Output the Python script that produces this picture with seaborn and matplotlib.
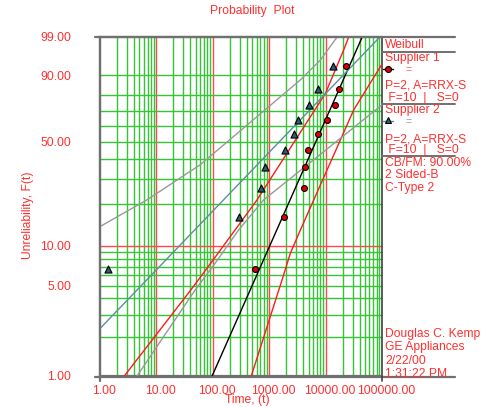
import numpy as np
import matplotlib
matplotlib.use("Agg")
import matplotlib.pyplot as plt
import matplotlib.transforms as mtransforms
from matplotlib.lines import Line2D
from matplotlib.ticker import NullLocator
import seaborn as sns

# ----------------------------
# Data
# ----------------------------
# failure times (Weibull probability plot)
s1_time = [553, 1807, 4090, 4365, 4875, 7244, 10590, 14680, 17070, 23000]
s2_time = [1.40, 288, 716, 853, 1905, 2718, 3243, 5077, 7244, 13520]
# unreliability of each point, %
s1_unrel = [6.7, 16.3, 26.0, 35.6, 45.2, 54.8, 64.4, 74.0, 83.7, 93.3]
s2_unrel = [6.7, 16.3, 26.0, 35.6, 45.2, 54.8, 64.4, 74.0, 83.7, 93.3]

# 90% two-sided confidence bounds (time, F %)
s1_bound_a_t = [2.7, 40.8, 110, 607, 10000, 20950, 25700]
s1_bound_a_f = [1.0, 4.65, 8.24, 21.5, 81.2, 97.4, 99.0]
s1_bound_b_t = [481, 1687, 2371, 3566, 31550, 94000, 100000]
s1_bound_b_f = [1.0, 5.54, 8.83, 13.1, 70.9, 93.3, 94.0]
s2_bound_a_t = [1.0, 6.75, 59.7, 3566, 8090, 16000]
s2_bound_a_f = [13.9, 21.5, 36.7, 88.0, 95.2, 99.0]
s2_bound_b_t = [4.54, 48.7, 110, 286, 795, 100000]
s2_bound_b_f = [1.0, 4.65, 7.42, 13.1, 21.5, 74.1]

x_ticks = [1, 10, 100, 1000, 10000, 100000]
x_labels = ["1.00", "10.00", "100.00", "1000.00", "10000.00", "100000.00"]
y_ticks = [1, 5, 10, 50, 90, 99]
y_labels = ["1.00", "5.00", "10.00", "50.00", "90.00", "99.00"]

panel_lines = [
    ("Weibull", 45),
    ("Supplier 1", 58.5),
    ("P=2, A=RRX-S", 86),
    (" F=10  |   S=0", 98),
    ("Supplier 2", 110.5),
    ("P=2, A=RRX-S", 139),
    (" F=10  |   S=0", 150.5),
    ("CB/FM: 90.00%", 162.5),
    ("2 Sided-B", 175.5),
    ("C-Type 2", 188.5),
    ("Douglas C. Kemp", 334),
    ("GE Appliances", 347),
    ("2/22/00", 361),
    ("1:31:22 PM", 374),
]

RED = "#ff3030"
GREEN = "#35c435"
GRID_RED = "#ff4848"
FRAME = "#707070"

sns.set_style("white")
plt.rcParams["font.family"] = ["Liberation Sans", "DejaVu Sans"]
plt.rcParams["font.size"] = 8.7

W, H = 487, 407


def weib(f):
    f = np.clip(np.asarray(f, dtype=float), 1e-6, 100 - 1e-6)
    return np.log(-np.log(1 - f / 100.0))


def weib_inv(y):
    return 100.0 * (1 - np.exp(-np.exp(y)))


def fx(px):
    return px / W


def fy(py):
    return 1 - py / H


fig = plt.figure(figsize=(W / 100, H / 100), dpi=100)
ax = fig.add_axes([fx(100), fy(376), (382 - 100) / W, (376 - 37) / H])
ax.set_xscale("log")
ax.set_yscale("function", functions=(weib, weib_inv))
ax.set_xlim(1, 100000)
ax.set_ylim(1, 99)

# grid
for d in [1, 10, 100, 1000, 10000]:
    for k in range(1, 10):
        v = k * d
        if v == 1:
            continue
        ax.axvline(v, color=GRID_RED if k == 1 else GREEN, lw=1, zorder=1)
for v in list(range(2, 10)) + list(range(20, 100, 10)):
    ax.axhline(v, color=GREEN, lw=1, zorder=1)
ax.axhline(10, color=GRID_RED, lw=1, zorder=1)


# rank regression on X for each supplier
def rrx_line(times, unrel):
    yy = weib(unrel)
    b, a = np.polyfit(yy, np.log(times), 1)
    f_end = np.array([0.5, 99.9])
    return np.exp(a + b * weib(f_end)), f_end


t1, f1 = rrx_line(s1_time, s1_unrel)
t2, f2 = rrx_line(s2_time, s2_unrel)

sns.lineplot(x=s1_bound_a_t, y=s1_bound_a_f, ax=ax, sort=False, estimator=None, color="#ff1a1a", lw=1, zorder=3)
sns.lineplot(x=s1_bound_b_t, y=s1_bound_b_f, ax=ax, sort=False, estimator=None, color="#ff1a1a", lw=1, zorder=3)
sns.lineplot(x=s2_bound_a_t, y=s2_bound_a_f, ax=ax, sort=False, estimator=None, color="#999999", lw=1, zorder=3)
sns.lineplot(x=s2_bound_b_t, y=s2_bound_b_f, ax=ax, sort=False, estimator=None, color="#999999", lw=1, zorder=3)
sns.lineplot(x=t1, y=f1, ax=ax, sort=False, estimator=None, color="black", lw=1, zorder=3)
sns.lineplot(x=t2, y=f2, ax=ax, sort=False, estimator=None, color="#5b8fa0", lw=1, zorder=3)

sns.scatterplot(x=s1_time, y=s1_unrel, ax=ax, marker="o", s=18, color="#e00000",
                edgecolor="black", linewidth=0.8, zorder=5)
sns.scatterplot(x=s2_time, y=s2_unrel, ax=ax, marker="^", s=26, color="#2e5e6e",
                edgecolor="black", linewidth=0.8, zorder=5)

# ticks and labels
ax.xaxis.set_minor_locator(NullLocator())
ax.yaxis.set_minor_locator(NullLocator())
ax.set_xticks(x_ticks)
ax.set_xticklabels(x_labels)
ax.set_yticks(y_ticks)
ax.set_yticklabels(y_labels)
ax.tick_params(axis="x", length=2.9, color=GRID_RED, labelcolor=RED, labelsize=8.7, pad=3.5, width=1)
ax.tick_params(axis="y", length=2.9, color=GREEN, labelcolor=RED, labelsize=8.7, pad=18, width=1)
shift = mtransforms.ScaledTranslation(4 / 100, 0, fig.dpi_scale_trans)
for lab in ax.get_xticklabels():
    lab.set_transform(lab.get_transform() + shift)
ax.set_xlabel("")
ax.set_ylabel("")

for side in ["left", "top", "bottom"]:
    ax.spines[side].set_color(FRAME)
    ax.spines[side].set_linewidth(1.6)
ax.spines["right"].set_color("#404040")
ax.spines["right"].set_linewidth(1.2)


def fig_line(x0, y0, x1, y1, color=FRAME, lw=1.6):
    fig.add_artist(Line2D([fx(x0), fx(x1)], [fy(y0), fy(y1)], color=color, lw=lw,
                          transform=fig.transFigure))


# frame extensions and the info panel on the right
fig_line(95, 37, 455, 37)
fig_line(95, 376.5, 455, 376.5)
fig_line(100, 37, 100, 381)
fig_line(382, 376, 382, 381, color="#404040", lw=1.2)
for yy in [52.3, 104, 156]:
    fig_line(382, yy, 455, yy, lw=1.4)

fig.text(fx(252), fy(11), "Probability  Plot", color=RED, ha="center", va="center")
fig.text(fx(28), fy(215), "Unreliability, F(t)", color=RED, ha="center", va="center", rotation=90)
fig.text(fx(247), fy(400), "Time, (t)", color=RED, ha="center", va="center")

for txt, py in panel_lines:
    fig.text(fx(385), fy(py), txt, color=RED, ha="left", va="center")

# panel legend symbols
fig_line(383, 69, 393, 69, color="black", lw=1)
fig.add_artist(Line2D([fx(388)], [fy(69)], marker="o", ms=4.3, mfc="#e00000", mec="black",
                      mew=0.8, transform=fig.transFigure))
fig.text(fx(405), fy(70), "=", color="#ff6060", ha="left", va="center", fontsize=7.5)
fig_line(383, 121, 393, 121, color="#5b8fa0", lw=1)
fig.add_artist(Line2D([fx(388)], [fy(120.5)], marker="^", ms=5, mfc="#2e5e6e", mec="black",
                      mew=0.8, transform=fig.transFigure))
fig.text(fx(405), fy(122), "=", color="#999999", ha="left", va="center", fontsize=7.5)

fig.savefig("out.png", dpi=100)
